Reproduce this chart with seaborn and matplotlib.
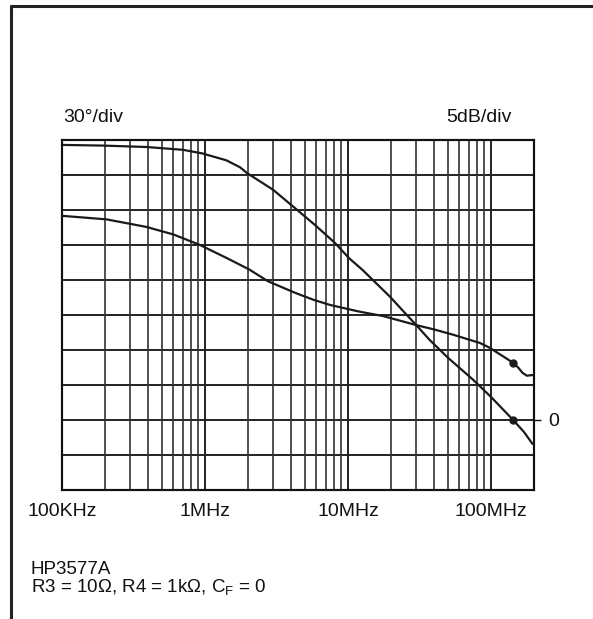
import matplotlib
matplotlib.use("Agg")
import matplotlib.pyplot as plt
from matplotlib.lines import Line2D
from matplotlib.ticker import FixedLocator, LogLocator, NullFormatter, FixedFormatter
import seaborn as sns
import pandas as pd
import numpy as np

# ---- data ----
mag_freq_mhz = [0.1, 0.195, 0.39, 0.70, 0.95, 1.41, 1.76, 1.96, 2.99, 4.6, 6.0, 8.1,
                10.2, 12.7, 19.7, 25.0, 29.9, 37.4, 50.0, 74.1, 100, 143, 170, 195]
mag_db = [39.3, 39.2, 39.0, 38.6, 38.1, 37.1, 36.1, 35.3, 32.9, 29.7, 27.7, 25.3,
          23.1, 21.4, 17.6, 15.3, 13.6, 11.4, 8.9, 5.85, 3.3, 0.0, -1.7, -3.4]

ph_freq_mhz = [0.1, 0.204, 0.389, 0.603, 0.923, 1.41, 1.76, 2.04, 2.75, 4.27, 5.75,
               7.5, 11.9, 17.6, 29.9, 40.4, 54.7, 83.8, 97.7, 120, 143, 155, 166, 178, 195]
phase_deg = [-5, -8, -14.5, -21, -30, -41, -47, -51, -61, -71, -77,
             -81.4, -87, -90.9, -98.6, -102.5, -107, -114, -118, -125, -131, -135, -139.5, -142, -141.5]

marker_freq_mhz = [143]
marker_db = [0.0]
marker_phase = [-131]

x_tick_mhz = [0.1, 1, 10, 100]
x_tick_labels = ["100KHz", "1MHz", "10MHz", "100MHz"]

sns.set_style("white")
plt.rcParams['font.family'] = ['Liberation Sans', 'DejaVu Sans']
plt.rcParams['mathtext.fontset'] = 'custom'
plt.rcParams['mathtext.rm'] = 'Liberation Sans'

W, H = 593, 619
fig = plt.figure(figsize=(W / 100, H / 100), dpi=100)
L, R, T, B = 62, 534, 140, 490
ax = fig.add_axes([L / W, 1 - B / H, (R - L) / W, (B - T) / H])
ax2 = ax.twinx()

mag_df = pd.DataFrame({"f": mag_freq_mhz, "db": mag_db})
ph_df = pd.DataFrame({"f": ph_freq_mhz, "ph": phase_deg})

sns.lineplot(data=mag_df, x="f", y="db", ax=ax, color="#1a1a1a", lw=1.6, sort=False)
sns.lineplot(data=ph_df, x="f", y="ph", ax=ax2, color="#1a1a1a", lw=1.6, sort=False)
ax.plot(marker_freq_mhz, marker_db, "o", color="#1a1a1a", ms=5)
ax2.plot(marker_freq_mhz, marker_phase, "o", color="#1a1a1a", ms=5)

ax.set_xscale("log")
ax.set_xlim(0.1, 200)
ax.set_ylim(-10, 40)
ax2.set_ylim(-240, 60)

# grid
ax.xaxis.set_major_locator(FixedLocator(x_tick_mhz))
ax.xaxis.set_major_formatter(FixedFormatter(x_tick_labels))
ax.xaxis.set_minor_locator(LogLocator(base=10, subs=np.arange(2, 10), numticks=20))
ax.xaxis.set_minor_formatter(NullFormatter())
ax.grid(True, which="major", axis="x", color="#222222", lw=1.4)
ax.grid(True, which="minor", axis="x", color="#333333", lw=1.2)
ax.set_axisbelow(True)
ax2.set_yticks([])

for yv in np.arange(-5, 40, 5):
    ax.axhline(yv, color="#222222", lw=1.4, zorder=0.5)

# ticks and labels
ax.tick_params(axis="x", which="both", length=0, pad=9, labelsize=14, colors="#111111")
ax.yaxis.tick_right()
ax.set_yticks([0])
ax.set_yticklabels(["0"])
ax.tick_params(axis="y", which="major", length=5, width=1, pad=5, labelsize=14,
               colors="#111111", direction="out")
ax.set_xlabel("")
ax.set_ylabel("")
ax2.set_ylabel("")

for a in (ax, ax2):
    for s in a.spines.values():
        s.set_color("#111111")
        s.set_linewidth(1.5)

fig.text(63 / W, 1 - 118 / H, "30°/div", ha="left", va="center", fontsize=14, color="#111111")
fig.text(512 / W, 1 - 118 / H, "5dB/div", ha="right", va="center", fontsize=14, color="#111111")
fig.text(31 / W, 1 - 570 / H, "HP3577A", ha="left", va="center", fontsize=13.5, color="#111111")
fig.text(31 / W, 1 - 588 / H, "R3 = 10Ω, R4 = 1kΩ, C$_{\\mathrm{F}}$ = 0",
         ha="left", va="center", fontsize=13.5, color="#111111")

# outer frame (top and left edges)
fig.add_artist(Line2D([10.5 / W, 1.0], [1 - 6 / H, 1 - 6 / H], color="#222222", lw=2.2))
fig.add_artist(Line2D([10.5 / W, 10.5 / W], [0, 1 - 6 / H], color="#222222", lw=2.2))

fig.savefig("out.png", dpi=100)
